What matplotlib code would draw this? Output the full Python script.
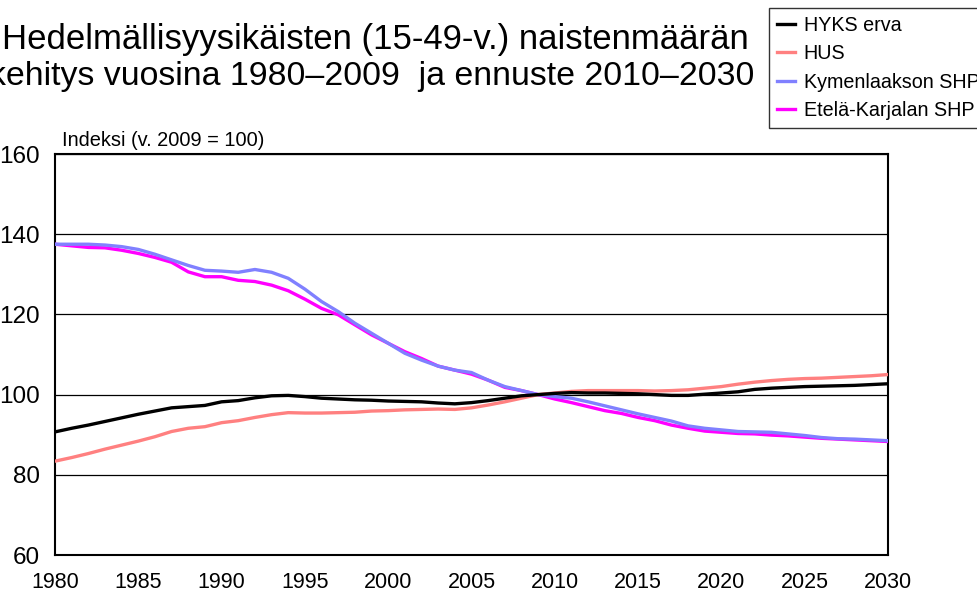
import matplotlib.pyplot as plt

plt.rcParams['font.family'] = ['Liberation Sans', 'DejaVu Sans']

years = list(range(1980, 2031))

hyks_erva = [90.7, 91.6, 92.4, 93.3, 94.2, 95.1, 95.9, 96.7, 97.0, 97.3,
             98.2, 98.5, 99.2, 99.7, 99.8, 99.5, 99.1, 98.9, 98.7, 98.6,
             98.4, 98.3, 98.2, 97.9, 97.7, 98.0, 98.5, 99.1, 99.7, 100.0,
             100.3, 100.5, 100.4, 100.4, 100.3, 100.2, 100.0, 99.8, 99.8, 100.1,
             100.4, 100.7, 101.3, 101.6, 101.8, 102.0, 102.1, 102.2, 102.3, 102.5,
             102.7]
hus = [83.4, 84.3, 85.3, 86.4, 87.4, 88.4, 89.5, 90.8, 91.6, 92.0,
       93.0, 93.5, 94.3, 95.0, 95.5, 95.4, 95.4, 95.5, 95.6, 95.9,
       96.0, 96.2, 96.3, 96.4, 96.3, 96.7, 97.4, 98.2, 99.1, 100.0,
       100.4, 100.8, 101.0, 101.0, 101.0, 101.0, 100.9, 101.0, 101.2, 101.6,
       102.0, 102.6, 103.1, 103.5, 103.8, 104.0, 104.1, 104.3, 104.5, 104.7,
       105.0]
kymenlaakso = [137.5, 137.5, 137.5, 137.3, 136.9, 136.2, 135.0, 133.6, 132.2, 131.0,
               130.8, 130.5, 131.2, 130.5, 129.0, 126.3, 123.2, 120.7, 117.8, 115.3,
               112.8, 110.3, 108.6, 107.1, 106.1, 105.5, 103.6, 102.0, 101.0, 100.0,
               99.5, 99.1, 98.2, 97.2, 96.2, 95.2, 94.3, 93.4, 92.2, 91.6,
               91.2, 90.8, 90.7, 90.6, 90.2, 89.8, 89.3, 89.0, 88.9, 88.7,
               88.5]
etela_karjala = [137.5, 137.1, 136.7, 136.6, 136.0, 135.2, 134.2, 133.0, 130.6, 129.4,
                 129.4, 128.5, 128.2, 127.3, 125.9, 123.8, 121.5, 119.9, 117.4, 114.9,
                 112.8, 110.7, 109.0, 107.1, 106.1, 105.1, 103.6, 101.8, 101.0, 100.0,
                 98.9, 98.0, 97.0, 96.0, 95.3, 94.3, 93.5, 92.4, 91.6, 90.9,
                 90.6, 90.3, 90.2, 89.9, 89.7, 89.4, 89.1, 88.9, 88.7, 88.5,
                 88.3]

labels = ['HYKS erva', 'HUS', 'Kymenlaakson SHP', 'Etelä-Karjalan SHP']
colors = ['#000000', '#ff8080', '#8080ff', '#ff00ff']
series = [hyks_erva, hus, kymenlaakso, etela_karjala]

fig = plt.figure(figsize=(9.77, 5.91), dpi=100)
ax = fig.add_axes([55 / 977, 1 - 555 / 591, 833 / 977, 401 / 591])

handles = []
for i, (vals, lab, col) in enumerate(zip(series, labels, colors)):
    h, = ax.plot(years, vals, color=col, lw=2.4, label=lab, zorder=10 - i)
    handles.append(h)

ax.set_xlim(1980, 2030)
ax.set_ylim(60, 160)
ax.set_xticks(range(1980, 2031, 5))
ax.set_yticks(range(60, 161, 20))
ax.tick_params(axis='x', length=0, labelsize=15.5, pad=12)
ax.tick_params(axis='y', length=0, labelsize=17.5, pad=11)
ax.grid(axis='y', color='black', lw=0.9)
ax.set_axisbelow(True)
for s in ax.spines.values():
    s.set_linewidth(1.5)

fig.text(62 / 977, 1 - 140 / 591, 'Indeksi (v. 2009 = 100)', fontsize=14.4, va='center')

# title is partly cut at the left edge in the original too
fig.text(375 / 977, 1 - 40 / 591, 'Hedelmällisyysikäisten (15-49-v.) naistenmäärän',
         fontsize=25, ha='center', va='center')
fig.text(372 / 977, 1 - 76 / 591, 'kehitys vuosina 1980–2009  ja ennuste 2010–2030',
         fontsize=24.4, ha='center', va='center')

leg = fig.legend(handles=handles, loc='upper left', bbox_to_anchor=(769 / 977, 1 - 8 / 591),
                 fontsize=14.2, frameon=True, fancybox=False, handlelength=0.9,
                 handletextpad=0.45, borderaxespad=0, borderpad=0.4, labelspacing=0.48)
leg.get_frame().set_edgecolor('black')
leg.get_frame().set_linewidth(1.0)

fig.savefig('out.png', dpi=100)
